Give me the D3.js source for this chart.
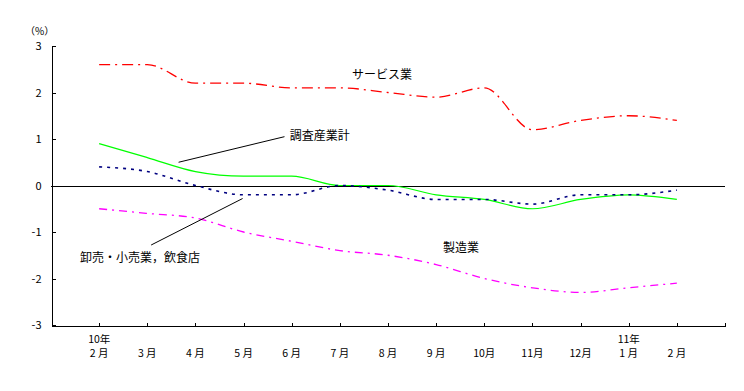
<!DOCTYPE html>
<html lang="ja">
<head>
<meta charset="UTF-8" />
<title>業種別推移</title>
<script src="https://cdn.jsdelivr.net/npm/d3@7/dist/d3.min.js"></script>
<style>
  body { margin: 0; background: #fff; }
  svg text { font-family: "Noto Sans CJK JP", "Noto Sans", sans-serif; fill: #000; }
  .axis path, .axis line { stroke: #000; stroke-width: 1; shape-rendering: crispEdges; }
  .axis text { font-size: 11px; }
  .series { fill: none; }
</style>
</head>
<body>
<script>
// months on the x axis (10年2月 .. 11年2月)
var months = ["2 月", "3 月", "4 月", "5 月", "6 月", "7 月", "8 月", "9 月", "10月", "11月", "12月", "1 月", "2 月"];
var yearLabels = ["10年", "", "", "", "", "", "", "", "", "", "", "11年", ""];
var yTicks = [-3, -2, -1, 0, 1, 2, 3];

// series values (%)
var service = [2.6, 2.6, 2.2, 2.2, 2.1, 2.1, 2.0, 1.9, 2.1, 1.2, 1.4, 1.5, 1.4];
var total = [0.9, 0.6, 0.3, 0.2, 0.2, 0.0, 0.0, -0.2, -0.3, -0.5, -0.3, -0.2, -0.3];
var wholesale = [0.4, 0.3, 0.0, -0.2, -0.2, 0.0, -0.1, -0.3, -0.3, -0.4, -0.2, -0.2, -0.1];
var manufacturing = [-0.5, -0.6, -0.7, -1.0, -1.2, -1.4, -1.5, -1.7, -2.0, -2.2, -2.3, -2.2, -2.1];

var w = 744, h = 391;
var margin = { top: 46, right: 19, bottom: 66, left: 51 };

var svg = d3.select("body").append("svg")
    .attr("width", w)
    .attr("height", h);

// one empty slot on both sides of the months
var xScale = d3.scaleLinear()
    .domain([-1, months.length])
    .range([margin.left, w - margin.right]);

var yScale = d3.scaleLinear()
    .domain([-3, 3])
    .range([h - margin.bottom, margin.top]);

// y axis, ticks pointing inside
svg.append("g")
    .attr("class", "axis")
    .attr("transform", "translate(" + (margin.left + 0.5) + ",0)")
    .call(d3.axisLeft(yScale).tickValues(yTicks).tickSizeInner(-4).tickSizeOuter(0).tickPadding(10).tickFormat(d3.format("d")))
    .selectAll("text").text(function(d) { return d < 0 ? "-" + Math.abs(d) : d; });

// x axis at the bottom
var xTickVals = d3.range(0, months.length + 1);
svg.append("g")
    .attr("class", "axis")
    .attr("transform", "translate(0," + (yScale(-3) + 0.5) + ")")
    .call(d3.axisBottom(xScale).tickValues(xTickVals).tickSizeInner(-3).tickSizeOuter(0).tickFormat(""));

// zero line
svg.append("line")
    .attr("x1", xScale(-1))
    .attr("x2", xScale(months.length))
    .attr("y1", yScale(0) + 0.5)
    .attr("y2", yScale(0) + 0.5)
    .attr("stroke", "#000")
    .attr("stroke-width", 1)
    .attr("shape-rendering", "crispEdges");

// month labels
svg.selectAll(".month")
    .data(months)
    .enter().append("text")
    .attr("class", "month")
    .attr("x", function(d, i) { return xScale(i); })
    .attr("y", 357)
    .attr("text-anchor", "middle")
    .style("font-size", "10.5px")
    .text(function(d) { return d; });

svg.selectAll(".year")
    .data(yearLabels)
    .enter().append("text")
    .attr("class", "year")
    .attr("x", function(d, i) { return xScale(i) - 11; })
    .attr("y", 343)
    .style("font-size", "10.5px")
    .text(function(d) { return d; });

// unit
svg.append("text")
    .attr("x", 25)
    .attr("y", 35)
    .style("font-size", "10px")
    .text("（%）");

var line = d3.line()
    .x(function(d, i) { return xScale(i); })
    .y(function(d) { return yScale(d); })
    .curve(d3.curveMonotoneX);

svg.append("path").datum(total)
    .attr("class", "series")
    .attr("stroke", "#00ff00")
    .attr("stroke-width", 1.2)
    .attr("d", line);

svg.append("path").datum(wholesale)
    .attr("class", "series")
    .attr("stroke", "#000080")
    .attr("stroke-width", 1.6)
    .attr("stroke-dasharray", "3,5")
    .attr("d", line);

svg.append("path").datum(service)
    .attr("class", "series")
    .attr("stroke", "#ff0000")
    .attr("stroke-width", 1.3)
    .attr("stroke-dasharray", "11,5,2,5")
    .attr("d", line);

svg.append("path").datum(manufacturing)
    .attr("class", "series")
    .attr("stroke", "#ff00ff")
    .attr("stroke-width", 1.3)
    .attr("stroke-dasharray", "8,5,2,5")
    .attr("d", line);

// leader lines (data units)
svg.append("line")
    .attr("x1", xScale(1.65)).attr("y1", yScale(0.5))
    .attr("x2", xScale(3.85)).attr("y2", yScale(1.05))
    .attr("stroke", "#000").attr("stroke-width", 1);

svg.append("line")
    .attr("x1", xScale(1.08)).attr("y1", yScale(-1.28))
    .attr("x2", xScale(2.98)).attr("y2", yScale(-0.28))
    .attr("stroke", "#000").attr("stroke-width", 1);

// series names
svg.append("text").attr("x", xScale(5.25)).attr("y", yScale(2.29))
    .style("font-size", "12px").text("サービス業");
svg.append("text").attr("x", xScale(3.96)).attr("y", yScale(0.98))
    .style("font-size", "12px").text("調査産業計");
svg.append("text").attr("x", xScale(-0.4)).attr("y", yScale(-1.65))
    .style("font-size", "12px").text("卸売・小売業，飲食店");
svg.append("text").attr("x", xScale(7.14)).attr("y", yScale(-1.43))
    .style("font-size", "12px").text("製造業");
</script>
</body>
</html>
